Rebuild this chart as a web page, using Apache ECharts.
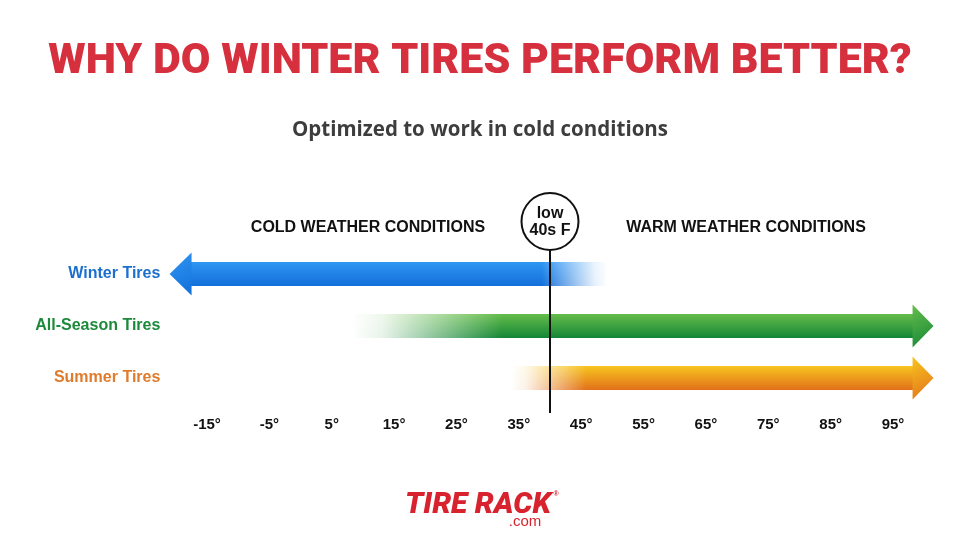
<!DOCTYPE html>
<html>
<head>
<meta charset="utf-8">
<script src="https://cdn.jsdelivr.net/npm/echarts@6/dist/echarts.min.js"></script>
<style>html,body{margin:0;padding:0;background:#fff;}#c{width:960px;height:540px;}</style>
</head>
<body>
<div id="c"></div>
<script>
// ---- data ----
const tires = ['Winter Tires', 'All-Season Tires', 'Summer Tires'];
const fadeStartF = [49, 8.5, 34];     // where the bar is fully faded out
const solidStartF = [39, 32, 45.5];   // where the bar reaches full colour
const arrowTipF = [-21, 101.5, 101.5];// arrow point
const tempTicks = [-15, -5, 5, 15, 25, 35, 45, 55, 65, 75, 85, 95];
const thresholdF = [40];
const thresholdLabel = 'low\n40s F';

// ---- styles ----
const labelColors = ['#1b6fcf', '#1c8a3a', '#e07b2b'];
const bodyColors = [['#3096f3', '#126fd9'], ['#66bd4b', '#138636'], ['#f7c520', '#e2701a']];
const BODY_H = 24, HEAD_H = 43, HEAD_LEN = 21;

const chart = echarts.init(document.getElementById('c'));

function vgrad(c) {
  return new echarts.graphic.LinearGradient(0, 0, 0, 1, [{offset: 0, color: c[0]}, {offset: 1, color: c[1]}]);
}

function renderArrow(params, api) {
  const i = api.value(0);
  const pFrom = api.coord([api.value(1), i]);
  const pSolid = api.coord([api.value(2), i]);
  const pTip = api.coord([api.value(3), i]);
  const dir = pTip[0] > pFrom[0] ? 1 : -1;
  const cy = pFrom[1];
  const baseX = pTip[0] - dir * HEAD_LEN;
  const c = bodyColors[i];
  const x0 = Math.min(pFrom[0], baseX), x1 = Math.max(pFrom[0], baseX);
  const fx0 = Math.min(pFrom[0], pSolid[0]), fx1 = Math.max(pFrom[0], pSolid[0]);
  const whiteAtLeft = pFrom[0] < pSolid[0];
  return {
    type: 'group',
    children: [
      {type: 'rect', shape: {x: x0, y: cy - BODY_H / 2, width: x1 - x0 + (dir > 0 ? 1 : 0), height: BODY_H},
       style: {fill: vgrad(c)}},
      {type: 'polygon', shape: {points: [[baseX + (dir > 0 ? 0 : 1), cy - HEAD_H / 2], [pTip[0], cy], [baseX + (dir > 0 ? 0 : 1), cy + HEAD_H / 2]]},
       style: {fill: new echarts.graphic.LinearGradient(0, 0, 1, 1, [{offset: 0, color: c[0]}, {offset: 1, color: c[1]}])}},
      {type: 'rect', shape: {x: fx0 - 2, y: cy - BODY_H / 2 - 1, width: fx1 - fx0 + 4, height: BODY_H + 2},
       style: {fill: new echarts.graphic.LinearGradient(whiteAtLeft ? 0 : 1, 0, whiteAtLeft ? 1 : 0, 0, [
         {offset: 0, color: 'rgba(255,255,255,1)'},
         {offset: 0.2, color: 'rgba(255,255,255,0.9)'},
         {offset: 1, color: 'rgba(255,255,255,0)'}])}}
    ]
  };
}

function renderThreshold(params, api) {
  const x = Math.round(api.coord([api.value(0), 0])[0]);
  return {
    type: 'group',
    children: [
      {type: 'line', shape: {x1: x, y1: 250, x2: x, y2: 413}, style: {stroke: '#111', lineWidth: 2}},
      {type: 'circle', shape: {cx: x, cy: 221.5, r: 28.5}, style: {fill: '#fff', stroke: '#111', lineWidth: 2}},
      {type: 'text', style: {x: x, y: 222, text: thresholdLabel, align: 'center', verticalAlign: 'middle',
        font: 'bold 16px "Liberation Sans", Arial, sans-serif', lineHeight: 17, fill: '#111'}}
    ]
  };
}

const arrowData = tires.map((t, i) => [i, fadeStartF[i], solidStartF[i], arrowTipF[i]]);

chart.setOption({
  backgroundColor: '#ffffff',
  animation: false,
  title: [
    {text: 'WHY DO WINTER TIRES PERFORM BETTER?', left: 'center', top: 36,
     textStyle: {color: '#d62f3d', fontSize: 43, fontWeight: 900, fontFamily: 'Roboto, "Liberation Sans", sans-serif'}},
    {text: 'Optimized to work in cold conditions', left: 'center', top: 115,
     textStyle: {color: '#3d3d3d', fontSize: 20.5, fontWeight: 'bold', fontFamily: '"Open Sans", Roboto, sans-serif'}}
  ],
  grid: {left: 163.35, right: 23.35, top: 248, bottom: 136, containLabel: false},
  xAxis: {
    type: 'value', min: -22, max: 102,
    axisLine: {show: false}, axisTick: {show: false}, splitLine: {show: false},
    axisLabel: {customValues: tempTicks, formatter: v => v + '°', margin: 13,
      color: '#111', fontSize: 15, fontWeight: 'bold', fontFamily: '"Liberation Sans", Arial, sans-serif'}
  },
  yAxis: {
    type: 'category', data: tires, inverse: true,
    axisLine: {show: false}, axisTick: {show: false}, splitLine: {show: false},
    axisLabel: {margin: 3, fontSize: 16, fontWeight: 'bold', fontFamily: '"Liberation Sans", Arial, sans-serif',
      color: (v, i) => labelColors[tires.indexOf(v)]}
  },
  series: [
    {type: 'custom', name: 'Temperature range', renderItem: renderArrow, data: arrowData,
     encode: {x: [1, 2, 3], y: 0}, clip: false, z: 2},
    {type: 'custom', name: 'Threshold', renderItem: renderThreshold, data: thresholdF.map(v => [v, 0]),
     encode: {x: 0, y: 1}, clip: false, z: 5}
  ],
  graphic: [
    {type: 'text', style: {text: 'COLD WEATHER CONDITIONS', x: 368, y: 228, align: 'center', verticalAlign: 'middle',
      font: 'bold 16px "Liberation Sans", Arial, sans-serif', fill: '#111'}},
    {type: 'text', style: {text: 'WARM WEATHER CONDITIONS', x: 746, y: 228, align: 'center', verticalAlign: 'middle',
      font: 'bold 16px "Liberation Sans", Arial, sans-serif', fill: '#111'}},
    {type: 'text', style: {text: 'TIRE RACK', x: 478, y: 505, align: 'center', verticalAlign: 'middle',
      font: 'italic 900 30px Roboto, "Liberation Sans", sans-serif', fill: '#d8232f'}},
    {type: 'text', style: {text: '®', x: 556, y: 494, align: 'center', verticalAlign: 'middle',
      font: 'bold 7px "Liberation Sans", sans-serif', fill: '#d8232f'}},
    {type: 'text', style: {text: '.com', x: 525, y: 522, align: 'center', verticalAlign: 'middle',
      font: '15px "Liberation Sans", Arial, sans-serif', fill: '#d8232f'}}
  ]
});
</script>
</body>
</html>
